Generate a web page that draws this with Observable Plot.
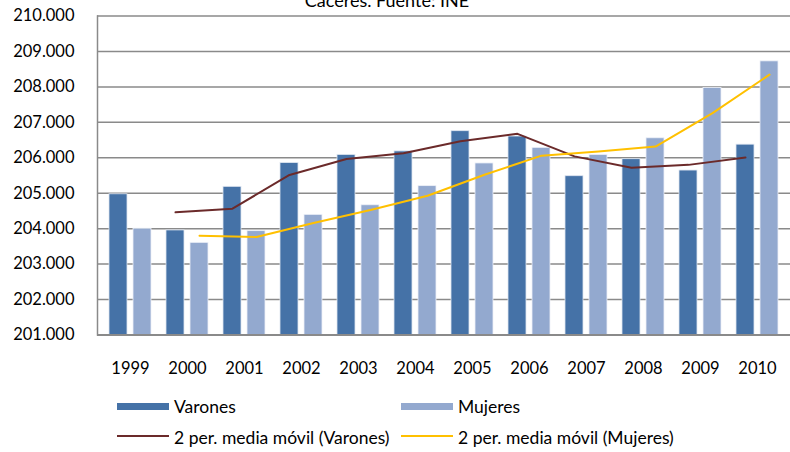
<!DOCTYPE html>
<html>
<head>
<meta charset="utf-8">
<script src="https://cdn.jsdelivr.net/npm/d3@7"></script>
<script src="https://cdn.jsdelivr.net/npm/@observablehq/plot@0.6"></script>
<style>
  html, body { margin: 0; padding: 0; background: #fff; }
  #wrap { position: relative; width: 790px; height: 452px; overflow: hidden; font-family: Lato, "DejaVu Sans", sans-serif; color: #000; }
  #title { position: absolute; left: 0; width: 774px; text-align: center; top: -9px; font-size: 18px; line-height: 18px; }
  #chart { position: absolute; left: 0; top: 0; }
  .leg { position: absolute; font-size: 17.5px; line-height: 18px; white-space: nowrap; }
  .sw { position: absolute; }
</style>
</head>
<body>
<div id="wrap">
  <div id="chart"></div>
  <div id="title">Cáceres. Fuente: INE</div>
  <div id="legend"></div>
</div>
<script>
const years = ["1999","2000","2001","2002","2003","2004","2005","2006","2007","2008","2009","2010"];
const varones = [204970, 203950, 205180, 205850, 206080, 206180, 206750, 206600, 205480, 205960, 205640, 206370];
const mujeres = [204000, 203600, 203930, 204390, 204660, 205200, 205840, 206280, 206080, 206550, 207970, 208720];
const maYears = ["2000","2001","2002","2003","2004","2005","2006","2007","2008","2009","2010"];
const maVarones = [204460, 204565, 205515, 205965, 206130, 206465, 206675, 206040, 205720, 205800, 206005];
const maMujeres = [203800, 203765, 204160, 204525, 204930, 205520, 206060, 206180, 206315, 207260, 208345];
const yTicks = [201000, 202000, 203000, 204000, 205000, 206000, 207000, 208000, 209000, 210000];
const seriesNames = ["Varones", "Mujeres", "2 per. media móvil (Varones)", "2 per. media móvil (Mujeres)"];
const colors = ["#4572A7", "#93A9CF", "#6B2A2A", "#FFC000"];

const vData = years.map((y, i) => ({year: y, value: varones[i]}));
const mData = years.map((y, i) => ({year: y, value: mujeres[i]}));
const maV = maYears.map((y, i) => ({year: y, value: maVarones[i]}));
const maM = maYears.map((y, i) => ({year: y, value: maMujeres[i]}));

const fmt = d => d3.format(",")(d).replace(/,/g, ".");
const grid = "#8a8a8a";

const chart = Plot.plot({
  width: 790,
  height: 390,
  marginLeft: 97,
  marginRight: 0,
  marginTop: 15.5,
  marginBottom: 55.5,
  style: {fontFamily: "Lato, 'DejaVu Sans', sans-serif", fontSize: "16px", color: "#000", background: "#fff"},
  x: {type: "band", domain: years, paddingInner: 0.256, paddingOuter: 0.128},
  y: {domain: [201000, 210000]},
  marks: [
    Plot.gridY(yTicks, {stroke: grid, strokeOpacity: 1, strokeWidth: 1.5}),
    Plot.barY(vData, {x: "year", y1: 201000, y2: "value", fill: colors[0], stroke: "#dfe6f1", strokeWidth: 0.8, insetRight: 24}),
    Plot.barY(mData, {x: "year", y1: 201000, y2: "value", fill: colors[1], stroke: "#eef1f8", strokeWidth: 0.8, insetLeft: 24}),
    Plot.ruleY([201000], {stroke: grid, strokeWidth: 2.2}),
    Plot.frame({anchor: "left", stroke: grid, strokeWidth: 1.5}),
    Plot.lineY(maV, {x: "year", y: "value", stroke: colors[2], strokeWidth: 2, dx: -12}),
    Plot.lineY(maM, {x: "year", y: "value", stroke: colors[3], strokeWidth: 2, dx: 12}),
    Plot.axisY({ticks: yTicks, tickFormat: fmt, tickSize: 0, tickPadding: 23, fontSize: 16.5, label: null}),
    Plot.axisX({tickSize: 0, tickPadding: 27, fontSize: 16.5, label: null})
  ]
});
document.getElementById("chart").appendChild(chart);

// legend
const legend = document.getElementById("legend");
const legItems = [
  {name: seriesNames[0], color: colors[0], kind: "box", sx: 117, tx: 174, cy: 406.5},
  {name: seriesNames[1], color: colors[1], kind: "box", sx: 401, tx: 458, cy: 406.5},
  {name: seriesNames[2], color: colors[2], kind: "line", sx: 117, tx: 174, cy: 438},
  {name: seriesNames[3], color: colors[3], kind: "line", sx: 401, tx: 458, cy: 438}
];
legItems.forEach(it => {
  const sw = document.createElement("div");
  sw.className = "sw";
  const h = it.kind === "box" ? 7 : 2;
  sw.style.cssText = `left:${it.sx}px; width:52px; height:${h}px; top:${(it.kind === "box" ? it.cy : it.cy - 2) - h / 2}px; background:${it.color};`;
  legend.appendChild(sw);
  const t = document.createElement("div");
  t.className = "leg";
  t.textContent = it.name;
  t.style.left = it.tx + "px";
  t.style.top = (it.cy - 9) + "px";
  legend.appendChild(t);
});
</script>
</body>
</html>
